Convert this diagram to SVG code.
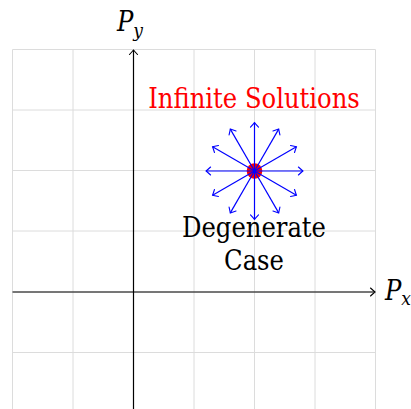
<svg xmlns="http://www.w3.org/2000/svg" width="411" height="409" viewBox="0 0 411 409">
<style>
.grid{stroke:#dcdcdc;stroke-width:1;fill:none}
.axis{stroke:#000;stroke-width:1.2;fill:none}
.ray{stroke:#0000ff;stroke-width:1.2;fill:none}
.lbl{font-family:'DejaVu Serif Condensed','DejaVu Serif',serif;font-stretch:condensed;font-size:27px}
.math{font-family:'DejaVu Serif Condensed','DejaVu Serif',serif;font-stretch:condensed;font-style:italic;font-size:27px;fill:#000}
</style>
<defs>
<marker id="tipK" markerUnits="userSpaceOnUse" markerWidth="12" markerHeight="12" viewBox="-8 -6 10 12" refX="0" refY="0" orient="auto">
<path d="M-4.5,-4 Q-1.2,-1 0,0 Q-1.2,1 -4.5,4" fill="none" stroke="#000" stroke-width="1.1" stroke-linecap="round"/>
</marker>
<marker id="tipB" markerUnits="userSpaceOnUse" markerWidth="12" markerHeight="12" viewBox="-8 -6 10 12" refX="0" refY="0" orient="auto">
<path d="M-4.5,-4 Q-1.2,-1 0,0 Q-1.2,1 -4.5,4" fill="none" stroke="#0000ff" stroke-width="1.1" stroke-linecap="round"/>
</marker>
</defs>
<rect width="411" height="409" fill="#fff"/>
<g id="grid" class="grid">
<path d="M12.5,49.5V413 M73,49.5V413 M133.5,49.5V413 M194,49.5V413 M254.5,49.5V413 M315,49.5V413 M375.5,49.5V413"/>
<path d="M12.5,49.5H375.5 M12.5,110H375.5 M12.5,170.5H375.5 M12.5,231H375.5 M12.5,292H375.5 M12.5,352.5H375.5"/>
</g>
<g id="connectors">
<g id="axes">
<line class="axis" x1="12.5" y1="292" x2="375" y2="292" marker-end="url(#tipK)"/>
<line class="axis" x1="133.5" y1="413" x2="133.5" y2="50" marker-end="url(#tipK)"/>
</g>
</g>
<g id="point">
<circle cx="254.5" cy="171" r="7.8" fill="#ff0000"/>
</g>
<g id="rays" class="ray">
<line x1="254.5" y1="171" x2="302.9" y2="171" marker-end="url(#tipB)"/>
<line x1="254.5" y1="171" x2="296.42" y2="146.8" marker-end="url(#tipB)"/>
<line x1="254.5" y1="171" x2="278.7" y2="129.08" marker-end="url(#tipB)"/>
<line x1="254.5" y1="171" x2="254.5" y2="122.6" marker-end="url(#tipB)"/>
<line x1="254.5" y1="171" x2="230.3" y2="129.08" marker-end="url(#tipB)"/>
<line x1="254.5" y1="171" x2="212.58" y2="146.8" marker-end="url(#tipB)"/>
<line x1="254.5" y1="171" x2="206.1" y2="171" marker-end="url(#tipB)"/>
<line x1="254.5" y1="171" x2="212.58" y2="195.2" marker-end="url(#tipB)"/>
<line x1="254.5" y1="171" x2="230.3" y2="212.92" marker-end="url(#tipB)"/>
<line x1="254.5" y1="171" x2="254.5" y2="219.4" marker-end="url(#tipB)"/>
<line x1="254.5" y1="171" x2="278.7" y2="212.92" marker-end="url(#tipB)"/>
<line x1="254.5" y1="171" x2="296.42" y2="195.2" marker-end="url(#tipB)"/>
</g>
<g id="label-infinite">
<text class="lbl" x="254" y="108" text-anchor="middle" fill="#ff0000">Infinite Solutions</text>
</g>
<g id="label-degenerate">
<text class="lbl" x="254" y="237" text-anchor="middle" fill="#000">Degenerate</text>
<text class="lbl" x="254" y="270" text-anchor="middle" fill="#000">Case</text>
</g>
<g id="label-py">
<text class="math" x="117" y="31">P<tspan font-size="19" dy="6">y</tspan></text>
</g>
<g id="label-px">
<text class="math" x="385" y="300">P<tspan font-size="19" dy="5">x</tspan></text>
</g>
</svg>
